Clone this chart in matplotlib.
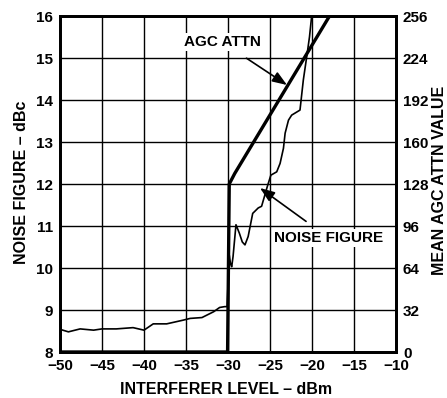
import matplotlib
matplotlib.use("Agg")
import matplotlib.pyplot as plt

plt.rcParams['font.family'] = ['Liberation Sans', 'DejaVu Sans']
plt.rcParams['font.weight'] = 'bold'

# Noise figure (dBc) vs interferer level (dBm)
nf_x = [-50, -49, -47.6, -46, -45, -43.3, -41.3, -40, -38.9, -37.3, -35.3, -34.5,
        -33.1, -31.7, -31.0, -30.4, -30.1, -30.0, -29.85, -29.7, -29.56, -29.4,
        -29.05, -28.65, -28.3, -27.98, -27.6, -27.06, -26.4, -26.0, -25.32, -24.9,
        -24.2, -23.8, -23.4, -23.2, -22.8, -22.42, -21.43, -21.03, -20.6, -20.3, -20.04]
nf_y = [8.54, 8.48, 8.55, 8.52, 8.55, 8.55, 8.58, 8.52, 8.67, 8.67, 8.76, 8.80,
        8.82, 8.96, 9.06, 9.08, 9.08, 9.6, 10.3, 10.1, 10.03, 10.27,
        11.03, 10.83, 10.62, 10.55, 10.75, 11.30, 11.43, 11.47, 11.94, 12.21,
        12.29, 12.49, 12.85, 13.21, 13.52, 13.64, 13.76, 14.48, 15.07, 15.5, 16.0]

# Mean AGC attenuation value vs interferer level (dBm)
agc_x = [-50, -30.05, -29.85, -29.2, -18.1, -17.9, -10]
agc_y = [0, 0, 128, 136, 254, 256, 256]

x_ticks = [-50, -45, -40, -35, -30, -25, -20, -15, -10]
x_tick_labels = ['\u221250', '\u221245', '\u221240', '\u221235', '\u221230',
                 '\u221225', '\u221220', '\u221215', '\u221210']
y_ticks = [8, 9, 10, 11, 12, 13, 14, 15, 16]
y2_ticks = [0, 32, 64, 96, 128, 160, 192, 224, 256]

fig = plt.figure(figsize=(4.47, 3.98), dpi=100)
ax = fig.add_axes([60/447, 46/398, 336/447, 336/398])
ax.set_xlim(-50, -10)
ax.set_ylim(8, 16)
ax.set_xticks(x_ticks)
ax.set_xticklabels(x_tick_labels)
ax.set_yticks(y_ticks)
ax.grid(True, color='black', linewidth=1.0)
ax.tick_params(length=0, labelsize=11, pad=5)
for s in ax.spines.values():
    s.set_linewidth(2.0)

ax.plot(nf_x, nf_y, color='black', linewidth=1.2, zorder=3)

ax2 = ax.twinx()
ax2.set_ylim(0, 256)
ax2.set_yticks(y2_ticks)
ax2.tick_params(length=0, labelsize=11, pad=5)
for s in ax2.spines.values():
    s.set_linewidth(2.0)
ax2.plot(agc_x, agc_y, color='black', linewidth=2.4, zorder=4, solid_capstyle='butt')

for lab in ax.get_xticklabels() + ax.get_yticklabels() + ax2.get_yticklabels():
    lab.set_fontweight('bold')

fig.text(226/447, 1 - 389/398, 'INTERFERER LEVEL \u2013 dBm', ha='center', va='center',
         fontsize=11.5, fontweight='bold')
fig.text(22/447, 1 - 182/398, 'NOISE FIGURE \u2013 dBc', ha='center', va='center',
         rotation=90, fontsize=11.5, fontweight='bold')
fig.text(439/447, 1 - 180/398, 'MEAN AGC ATTN VALUE', ha='center', va='center',
         rotation=90, fontsize=11.5, fontweight='bold')

def fig_px(x, y):
    return (x/447, 1 - y/398)

ax.annotate('AGC ATTN', xy=fig_px(287, 85), xycoords='figure fraction',
            xytext=fig_px(222, 42), textcoords='figure fraction',
            ha='center', va='center', fontsize=11, fontweight='bold',
            arrowprops=dict(arrowstyle='-|>,head_length=0.8,head_width=0.3',
                            color='black', lw=1.2, shrinkA=9, shrinkB=0),
            bbox=dict(boxstyle='square,pad=0.15', fc='white', ec='none'))
ax.annotate('NOISE FIGURE', xy=fig_px(260, 188), xycoords='figure fraction',
            xytext=fig_px(329, 238), textcoords='figure fraction',
            ha='center', va='center', fontsize=11, fontweight='bold',
            arrowprops=dict(arrowstyle='-|>,head_length=0.8,head_width=0.3',
                            color='black', lw=1.2, shrinkA=9, shrinkB=0),
            bbox=dict(boxstyle='square,pad=0.15', fc='white', ec='none'))

fig.savefig('out.png', dpi=100)
